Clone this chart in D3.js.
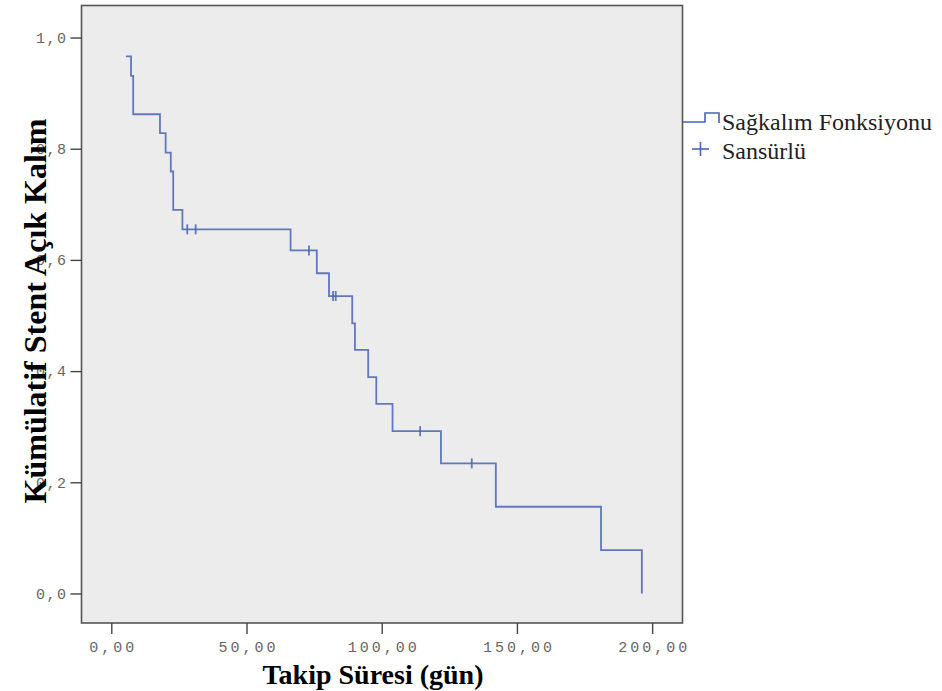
<!DOCTYPE html>
<html><head><meta charset="utf-8">
<script src="https://cdn.jsdelivr.net/npm/d3@7"></script>
<style>body{margin:0;background:#fff}svg{display:block}</style>
</head><body>
<svg id="chart" width="942" height="691"></svg>
<script>
// Kaplan–Meier steps: times (gün) and survival after each step
const stepTimes = [5.4, 7.3, 8.1, 18.0, 20.1, 22.0, 22.9, 26.3, 66.3, 76.0, 80.5, 89.1, 90.1, 95.0, 98.0, 104.0, 121.9, 142.2, 181.1, 196.2];
const stepValues = [0.966, 0.931, 0.862, 0.828, 0.793, 0.759, 0.690, 0.655, 0.617, 0.576, 0.535, 0.486, 0.438, 0.389, 0.341, 0.292, 0.234, 0.156, 0.078, 0.0];
// censored observations
const censorTimes = [28.1, 31.2, 73.1, 82.0, 83.0, 114.2, 133.3];
const censorValues = [0.655, 0.655, 0.617, 0.535, 0.535, 0.292, 0.234];
// axis ticks
const xTicks = [0, 50, 100, 150, 200];
const xTickLabels = ["0,00", "50,00", "100,00", "150,00", "200,00"];
const yTicks = [0, 0.2, 0.4, 0.6, 0.8, 1.0];
const yTickLabels = ["0,0", "0,2", "0,4", "0,6", "0,8", "1,0"];
const legendLabels = ["Sağkalım Fonksiyonu", "Sansürlü"];

const svg = d3.select("#chart");
const L = 81.5, R = 682.5, T = 5.5, B = 623;
const x = d3.scaleLinear().domain([-11.02, 211.23]).range([L, R]);
const y = d3.scaleLinear().domain([-0.0531, 1.0576]).range([B, T]);
const blue = "#4a63b5";
const mono = "'Liberation Mono', 'DejaVu Sans Mono', monospace";
const serif = "'Liberation Serif', 'Times New Roman', 'DejaVu Serif', serif";

svg.append("rect").attr("x", L).attr("y", T).attr("width", R - L).attr("height", B - T)
  .attr("fill", "#ececec").attr("stroke", "#555").attr("stroke-width", 1.6);

// axes
const xAxis = d3.axisBottom(x).tickValues(xTicks).tickSize(11).tickPadding(7)
  .tickFormat((d, i) => xTickLabels[i]);
const gx = svg.append("g").attr("transform", `translate(0,${B})`).call(xAxis);
gx.select(".domain").remove();
const yAxis = d3.axisLeft(y).tickValues(yTicks).tickSize(11).tickPadding(3)
  .tickFormat((d, i) => yTickLabels[i]);
const gy = svg.append("g").attr("transform", `translate(${L},0)`).call(yAxis);
gy.select(".domain").remove();
svg.selectAll(".tick line").attr("stroke", "#444").attr("stroke-width", 1.4);
svg.selectAll(".tick text").attr("fill", "#666").style("font-family", mono)
  .style("font-size", "15px").style("letter-spacing", "3px");
gy.selectAll(".tick text").style("letter-spacing", "1.5px");
gx.selectAll(".tick text").attr("dx", "1.5px");

// curve
const pts = stepTimes.map((t, i) => [t, stepValues[i]]);
const line = d3.line().x(d => x(d[0])).y(d => y(d[1])).curve(d3.curveStepAfter);
svg.append("path").attr("d", line(pts)).attr("fill", "none").attr("stroke", blue)
  .attr("stroke-width", 1.8).attr("stroke-opacity", 0.85);

// censor marks
censorTimes.forEach((t, i) => {
  svg.append("line").attr("x1", x(t)).attr("x2", x(t))
    .attr("y1", y(censorValues[i]) - 5).attr("y2", y(censorValues[i]) + 5)
    .attr("stroke", blue).attr("stroke-width", 1.8).attr("stroke-opacity", 0.85);
});

// axis titles
svg.append("text").attr("x", 373).attr("y", 684).attr("text-anchor", "middle")
  .attr("font-family", serif).attr("font-weight", "bold").attr("font-size", 28)
  .text("Takip Süresi (gün)");
svg.append("text").attr("transform", "translate(46,311) rotate(-90)").attr("text-anchor", "middle")
  .attr("font-family", serif).attr("font-weight", "bold").attr("font-size", 32)
  .text("Kümülatif Stent Açık Kalım");

// legend
const lg = svg.append("g");
lg.append("path").attr("d", d3.line()([[683, 122], [705, 122], [705, 113], [719, 113], [719, 123]]))
  .attr("fill", "none").attr("stroke", blue).attr("stroke-width", 1.6);
lg.append("line").attr("x1", 692).attr("x2", 709).attr("y1", 149).attr("y2", 149).attr("stroke", blue).attr("stroke-width", 1.6);
lg.append("line").attr("x1", 700.5).attr("x2", 700.5).attr("y1", 142).attr("y2", 156).attr("stroke", blue).attr("stroke-width", 1.6);
lg.selectAll("text.lt").data(legendLabels).enter().append("text")
  .attr("x", 722).attr("y", (d, i) => 130 + i * 29)
  .attr("font-family", serif).attr("font-size", 24).attr("fill", "#222")
  .text(d => d);
</script>
</body></html>
